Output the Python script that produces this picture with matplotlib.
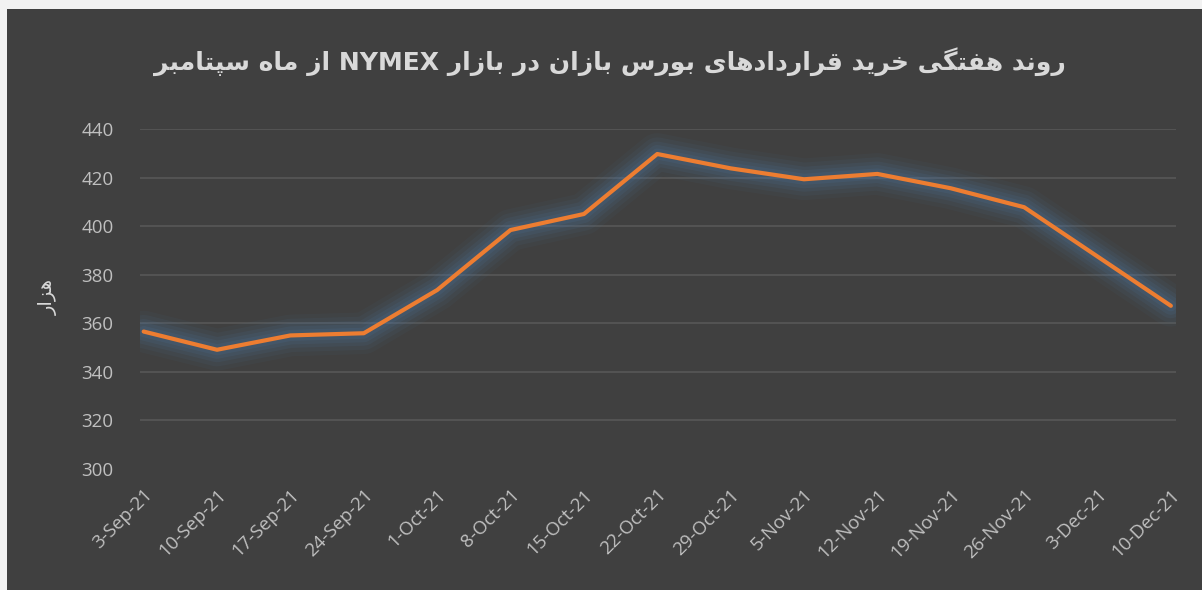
import numpy as np
import matplotlib.pyplot as plt
from matplotlib.patches import Rectangle

dates = ['3-Sep-21', '10-Sep-21', '17-Sep-21', '24-Sep-21', '1-Oct-21', '8-Oct-21',
         '15-Oct-21', '22-Oct-21', '29-Oct-21', '5-Nov-21', '12-Nov-21', '19-Nov-21',
         '26-Nov-21', '3-Dec-21', '10-Dec-21']
values = [356.6, 349.1, 355.0, 355.9, 373.7, 398.4, 405.0, 429.7,
          423.8, 419.3, 421.5, 415.6, 407.8, 387.5, 367.2]
yticks = [300, 320, 340, 360, 380, 400, 420, 440]

title_fa = 'روند هفتگی خرید قراردادهای بورس بازان در بازار NYMEX از ماه سپتامبر'
ylabel_fa = 'هزار'

# matplotlib does no arabic shaping, so pick presentation forms by hand
# (isolated, final, initial, medial)
FORMS = {
    'ا': (0xFE8D, 0xFE8E), 'د': (0xFEA9, 0xFEAA), 'ر': (0xFEAD, 0xFEAE),
    'ز': (0xFEAF, 0xFEB0), 'و': (0xFEED, 0xFEEE),
    'ب': (0xFE8F, 0xFE90, 0xFE91, 0xFE92), 'ت': (0xFE95, 0xFE96, 0xFE97, 0xFE98),
    'خ': (0xFEA5, 0xFEA6, 0xFEA7, 0xFEA8), 'س': (0xFEB1, 0xFEB2, 0xFEB3, 0xFEB4),
    'ف': (0xFED1, 0xFED2, 0xFED3, 0xFED4), 'ق': (0xFED5, 0xFED6, 0xFED7, 0xFED8),
    'م': (0xFEE1, 0xFEE2, 0xFEE3, 0xFEE4), 'ن': (0xFEE5, 0xFEE6, 0xFEE7, 0xFEE8),
    'ه': (0xFEE9, 0xFEEA, 0xFEEB, 0xFEEC), 'پ': (0xFB56, 0xFB57, 0xFB58, 0xFB59),
    'گ': (0xFB92, 0xFB93, 0xFB94, 0xFB95), 'ی': (0xFBFC, 0xFBFD, 0xFBFE, 0xFBFF),
}


def shape(s):
    out = []
    for i, ch in enumerate(s):
        if ch not in FORMS:
            out.append(ch)
            continue
        f = FORMS[ch]
        prev = s[i-1] if i > 0 else ''
        nxt = s[i+1] if i < len(s)-1 else ''
        jp = prev in FORMS and len(FORMS[prev]) == 4
        jn = len(f) == 4 and nxt in FORMS
        if jp and jn:
            out.append(chr(f[3]))
        elif jp:
            out.append(chr(f[1]))
        elif jn:
            out.append(chr(f[2]))
        else:
            out.append(chr(f[0]))
    # visual order: reverse, but keep latin runs left-to-right
    rev = ''.join(out)[::-1]
    res, run = '', ''
    for ch in rev:
        if ch.isascii() and ch.isalnum():
            run += ch
        else:
            res += run[::-1] + ch
            run = ''
    return res + run[::-1]


fig = plt.figure(figsize=(12.02, 5.90), dpi=100)
fig.patch.set_facecolor('#f2f2f2')
fig.patches.append(Rectangle((7/1202, 0), 1, 581/590, transform=fig.transFigure,
                             facecolor='#404040', edgecolor='none', zorder=-10))

ax = fig.add_axes([140/1202, 121/590, 1036/1202, 340/590])
ax.set_facecolor('#404040')
ax.patch.set_alpha(0)

x = np.arange(len(dates))
# soft blue glow under the line
for lw, a in [(30, 0.06), (24, 0.08), (18, 0.10), (13, 0.12), (8, 0.14)]:
    ax.plot(x, values, color='#4f7aa6', lw=lw, alpha=a, solid_capstyle='round',
            solid_joinstyle='round', zorder=2)
ax.plot(x, values, color='#ED7D31', lw=3, solid_capstyle='round', zorder=3)

ax.set_xlim(-0.05, 14.07)
ax.set_ylim(300, 440)
ax.set_yticks(yticks)
ax.set_xticks(x)
ax.set_xticklabels(dates, rotation=45, ha='right', rotation_mode='anchor')
ax.tick_params(axis='both', length=0, colors='#bfbfbf', labelsize=13.5)
ax.tick_params(axis='y', pad=19)
ax.tick_params(axis='x', pad=12)
for lab in ax.get_xticklabels() + ax.get_yticklabels():
    lab.set_family('Open Sans')
ax.grid(axis='y', color='#595959', lw=1.1)
ax.yaxis.get_gridlines()[0].set_visible(False)
for s in ax.spines.values():
    s.set_visible(False)

fig.text(48/1202, 1-297/590, shape(ylabel_fa), rotation=90, ha='center', va='center',
         color='#d9d9d9', fontsize=14, family=['DejaVu Sans'])
fig.text(610/1202, 1-62/590, shape(title_fa), ha='center', va='center',
         color='#d9d9d9', fontsize=18, weight='bold', family=['DejaVu Sans'])

fig.savefig('out.png', dpi=100, facecolor=fig.get_facecolor())
